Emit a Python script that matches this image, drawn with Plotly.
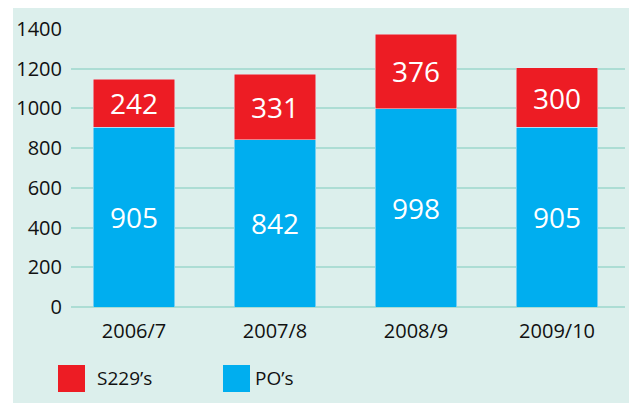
import plotly.graph_objects as go

periodes = ["2006/7", "2007/8", "2008/9", "2009/10"]
po = [905, 842, 998, 905]
s229 = [242, 331, 376, 300]

BLEU = "#00aeef"
ROUGE = "#ed1c24"
FOND = "#dcefec"
GRILLE = "#acddd4"
POLICE = "Open Sans"
TEXTE = "#111111"

fig = go.Figure()
fig.add_bar(x=periodes, y=po, name="PO’s", marker_color=BLEU, width=0.58,
            text=po, textposition="inside", insidetextanchor="middle",
            textfont=dict(color="white", size=28, family=POLICE))
fig.add_bar(x=periodes, y=s229, name="S229’s", marker_color=ROUGE, width=0.58,
            text=s229, textposition="inside", insidetextanchor="middle",
            textfont=dict(color="white", size=28, family=POLICE))

# fond du panneau + bande blanche en haut et à gauche
shapes = [
    dict(type="rect", xref="paper", yref="paper", x0=-0.2, x1=-0.1047,
         y0=-0.4, y1=1.2, fillcolor="white", line_width=0, layer="above"),
    dict(type="rect", xref="paper", yref="paper", x0=-0.2, x1=1.1,
         y0=1.0755, y1=1.2, fillcolor="white", line_width=0, layer="above"),
    # légende faite à la main
    dict(type="rect", xref="paper", yref="paper", x0=-0.0235, x1=0.0253,
         y0=-0.3058, y1=-0.2086, fillcolor=ROUGE, line_width=0),
    dict(type="rect", xref="paper", yref="paper", x0=0.2744, x1=0.3231,
         y0=-0.3058, y1=-0.2086, fillcolor=BLEU, line_width=0),
]
annotations = [
    dict(text="S229’s", xref="paper", yref="paper", x=0.0433, y=-0.257,
         xanchor="left", yanchor="middle", showarrow=False,
         font=dict(size=19, family=POLICE, color=TEXTE)),
    dict(text="PO’s", xref="paper", yref="paper", x=0.3285, y=-0.257,
         xanchor="left", yanchor="middle", showarrow=False,
         font=dict(size=19, family=POLICE, color=TEXTE)),
]

fig.update_layout(
    barmode="stack",
    width=629, height=403,
    margin=dict(l=71, r=4, t=29, b=96),
    paper_bgcolor=FOND, plot_bgcolor=FOND,
    showlegend=False,
    shapes=shapes, annotations=annotations,
    font=dict(family=POLICE, color=TEXTE),
)
fig.update_xaxes(range=[-0.447, 3.482], showgrid=False, automargin=False,
                 tickfont=dict(size=20), ticks="outside", ticklen=6,
                 tickcolor="rgba(0,0,0,0)")
fig.update_yaxes(range=[0, 1400], dtick=200, showgrid=True, gridcolor=GRILLE,
                 gridwidth=1.5, zeroline=True, zerolinecolor=GRILLE,
                 zerolinewidth=1.5, tickfont=dict(size=20), automargin=False,
                 ticks="outside", ticklen=4, tickcolor="rgba(0,0,0,0)")

fig.write_html("out.html", config={"displayModeBar": False},
               post_script="document.body.style.margin='0';")
